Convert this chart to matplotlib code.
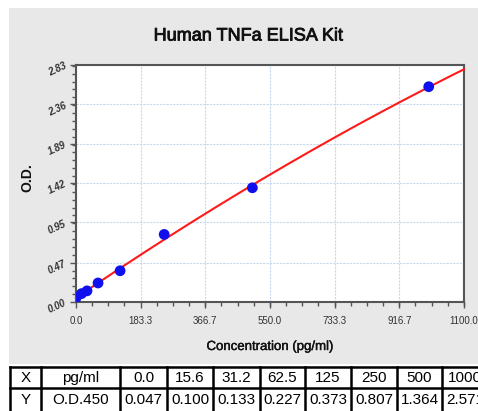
import numpy as np
import matplotlib
matplotlib.use("Agg")
import matplotlib.pyplot as plt
import matplotlib.patheffects as pe
from matplotlib.patches import Rectangle
from matplotlib.lines import Line2D
from matplotlib.ticker import FixedLocator, AutoMinorLocator

conc = [0.0, 15.6, 31.2, 62.5, 125, 250, 500, 1000]
od = [0.047, 0.100, 0.133, 0.227, 0.373, 0.807, 1.364, 2.571]
conc_labels = ["0.0", "15.6", "31.2", "62.5", "125", "250", "500", "1000"]
od_labels = ["0.047", "0.100", "0.133", "0.227", "0.373", "0.807", "1.364", "2.571"]
xticks = [0.0, 183.3, 366.7, 550.0, 733.3, 916.7, 1100.0]
yticks = [0.00, 0.47, 0.95, 1.42, 1.89, 2.36, 2.83]

W, H = 478, 411
fig = plt.figure(figsize=(W / 100, H / 100), dpi=100)
fig.patch.set_facecolor("white")

def fx(px):
    return px / W

def fy(py):
    return 1 - py / H

# grey panel
fig.patches.append(Rectangle((fx(9), fy(364)), 1 - fx(9), fy(8) - fy(364),
                             transform=fig.transFigure, facecolor="#e8e8e8",
                             edgecolor="none", zorder=-5))

fam = ["Liberation Sans", "DejaVu Sans"]
heavy = [pe.withStroke(linewidth=0.6, foreground="#111111")]

ax = fig.add_axes([fx(76), fy(302), fx(464) - fx(76), fy(65) - fy(302)])
ax.set_zorder(2)
ax.set_facecolor("white")
ax.set_xlim(0, 1100)
ax.set_ylim(0, 2.83)

# fitted curve
coef = np.polyfit(conc, od, 2)
xs = np.linspace(0, 1100, 300)
ax.plot(xs, np.polyval(coef, xs), color="#ff1a1a", lw=1.5, zorder=3, clip_on=False)
ax.scatter(conc, od, s=60, color="#1010ee", zorder=4, edgecolors="none")

ax.xaxis.set_major_locator(FixedLocator(xticks))
ax.yaxis.set_major_locator(FixedLocator(yticks))
ax.xaxis.set_minor_locator(AutoMinorLocator(4))
ax.yaxis.set_minor_locator(AutoMinorLocator(5))
ax.set_xticklabels([f"{v:.1f}" for v in xticks], fontsize=7, family=fam, color="#333333")
ax.set_yticklabels([f"{v:.2f}" for v in yticks], fontsize=7, family=fam, color="#333333",
                   rotation=25, style="italic", fontweight="bold")
ax.tick_params(axis="both", which="major", direction="out", length=4, width=1, color="#555555")
ax.tick_params(axis="both", which="minor", direction="out", length=3, width=1, color="#555555")
ax.tick_params(axis="x", pad=6)
ax.tick_params(axis="y", pad=2)
ax.grid(True, which="major", color="#c8d8ee", lw=0.8, ls=(0, (2, 1)))
ax.set_axisbelow(True)
for s in ax.spines.values():
    s.set_color("#555555")
    s.set_linewidth(1.5)

fig.text(fx(248), fy(36), "Human TNFa ELISA Kit", ha="center", va="center",
         fontsize=13, family=fam, color="#111111", path_effects=heavy)
fig.text(fx(27), fy(178), "O.D.", ha="center", va="center", rotation=90,
         fontsize=10, fontweight="bold", family=fam, color="#111111")
fig.text(fx(270), fy(347), "Concentration (pg/ml)", ha="center", va="center",
         fontsize=9.5, family=fam, color="#111111",
         path_effects=[pe.withStroke(linewidth=0.3, foreground="#111111")])

# table
col_edges = [10, 41, 120, 167, 213, 260, 305, 351, 397, 442, 488]
row_edges = [367, 388, 412]
for yv in row_edges:
    fig.add_artist(Line2D([fx(col_edges[0]), fx(col_edges[-1])], [fy(yv), fy(yv)],
                          transform=fig.transFigure, color="black", lw=1.8))
for xv in col_edges:
    fig.add_artist(Line2D([fx(xv), fx(xv)], [fy(row_edges[0]), fy(row_edges[-1])],
                          transform=fig.transFigure, color="black", lw=1.8))
row1 = ["X", "pg/ml"] + conc_labels
row2 = ["Y", "O.D.450"] + od_labels
for i in range(len(col_edges) - 1):
    cx = (col_edges[i] + col_edges[i + 1]) / 2
    fig.text(fx(cx), fy(378), row1[i], ha="center", va="center", fontsize=11,
             family=fam, color="black")
    fig.text(fx(cx), fy(400), row2[i], ha="center", va="center", fontsize=11,
             family=fam, color="black")

fig.savefig("out.png", dpi=100)
